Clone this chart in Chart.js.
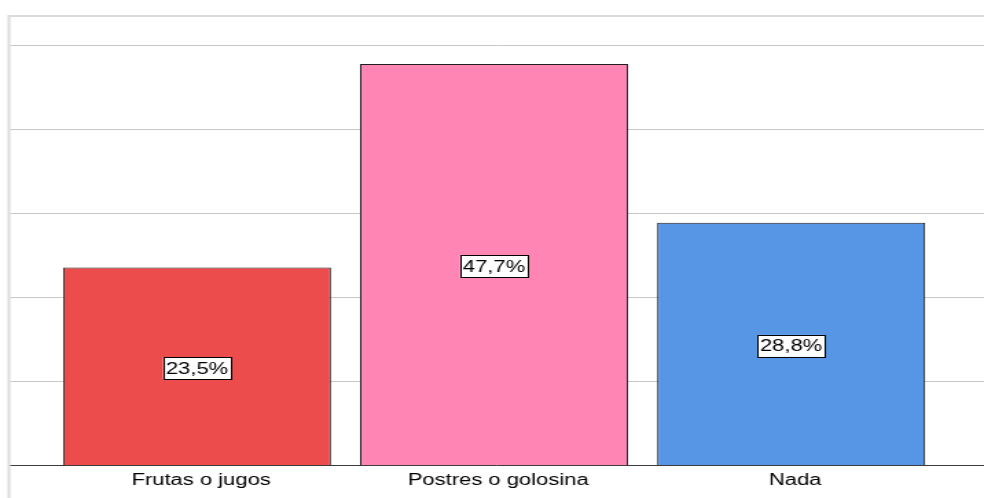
<!DOCTYPE html>
<html>
<head>
<meta charset="utf-8">
<script src="https://cdn.jsdelivr.net/npm/chart.js@4.4.0/dist/chart.umd.min.js"></script>
<style>
  html, body { margin: 0; padding: 0; background: #fff; overflow: hidden; }
  /* the chart is laid out narrow and widened, like the original export */
  #wrap { width: 716px; height: 498px; transform: scaleX(1.3743); transform-origin: 0 0; }
</style>
</head>
<body>
<div id="wrap"><canvas id="myChart" width="716" height="498"></canvas></div>
<script>
let categorias = ["Frutas o jugos", "Postres o golosina", "Nada"];
let porcentajes = [23.5, 47.7, 28.8];
let colores = ["#EC4C4C", "#FF85B5", "#5696E4"];
let yMax = 53.4;

const fuente = "'Liberation Sans', Arial, sans-serif";

// frame, gridlines and baseline, drawn across the whole width
const marco = {
  id: "marco",
  beforeDatasetsDraw(chart) {
    const ctx = chart.ctx;
    const y = chart.scales.y;
    const w = chart.width;
    const top = y.getPixelForValue(yMax);
    ctx.save();
    ctx.strokeStyle = "#dcdcdc";
    ctx.lineWidth = 2;
    ctx.beginPath();
    ctx.moveTo(6.5, chart.height);
    ctx.lineTo(6.5, top);
    ctx.lineTo(w, top);
    ctx.stroke();
    ctx.strokeStyle = "#c8c8c8";
    ctx.lineWidth = 1;
    y.ticks.forEach((t) => {
      if (t.value > 0 && t.value % 10 === 0) {
        const py = Math.round(y.getPixelForValue(t.value)) + 0.5;
        ctx.beginPath();
        ctx.moveTo(7.5, py);
        ctx.lineTo(w, py);
        ctx.stroke();
      }
    });
    ctx.strokeStyle = "#3c3c3c";
    const y0 = Math.round(y.getPixelForValue(0)) + 0.5;
    ctx.beginPath();
    ctx.moveTo(7.5, y0);
    ctx.lineTo(w, y0);
    ctx.stroke();
    ctx.restore();
  },
  // boxed percentage in the middle of each bar
  afterDatasetsDraw(chart) {
    const ctx = chart.ctx;
    const meta = chart.getDatasetMeta(0);
    ctx.save();
    ctx.font = "16px " + fuente;
    ctx.textAlign = "center";
    ctx.textBaseline = "middle";
    meta.data.forEach((bar, i) => {
      const txt = porcentajes[i].toFixed(1).replace(".", ",") + "%";
      const cx = bar.x;
      const cy = (bar.y + bar.base) / 2 + 2;
      const tw = ctx.measureText(txt).width;
      const bw = tw + 4;
      const bh = 22;
      ctx.fillStyle = "#fff";
      ctx.fillRect(cx - bw / 2, cy - bh / 2, bw, bh);
      ctx.strokeStyle = "#000";
      ctx.lineWidth = 1;
      ctx.strokeRect(Math.round(cx - bw / 2) + 0.5, Math.round(cy - bh / 2) + 0.5, Math.round(bw), bh);
      ctx.fillStyle = "#000";
      ctx.fillText(txt, cx, cy + 1);
    });
    ctx.restore();
  },
};

const ctx = document.getElementById("myChart");
const myChart = new Chart(ctx, {
  type: "bar",
  data: {
    labels: categorias,
    datasets: [
      {
        data: porcentajes,
        backgroundColor: colores,
        borderColor: "#1e1e1e",
        borderWidth: 1,
        categoryPercentage: 0.902,
        barPercentage: 1.0,
      },
    ],
  },
  options: {
    responsive: false,
    animation: false,
    layout: {
      padding: { top: 16, left: 35.3, right: 32.3, bottom: 0 },
    },
    plugins: {
      legend: { display: false },
      tooltip: { enabled: false },
    },
    scales: {
      x: {
        grid: { display: false, drawTicks: false },
        border: { display: false },
        ticks: {
          color: "#000",
          padding: 6,
          labelOffset: 3,
          font: { family: fuente, size: 16 },
        },
        afterFit(scale) {
          scale.height = 33;
        },
      },
      y: {
        display: false,
        min: 0,
        max: yMax,
        ticks: { stepSize: 10 },
      },
    },
  },
  plugins: [marco],
});
</script>
</body>
</html>
